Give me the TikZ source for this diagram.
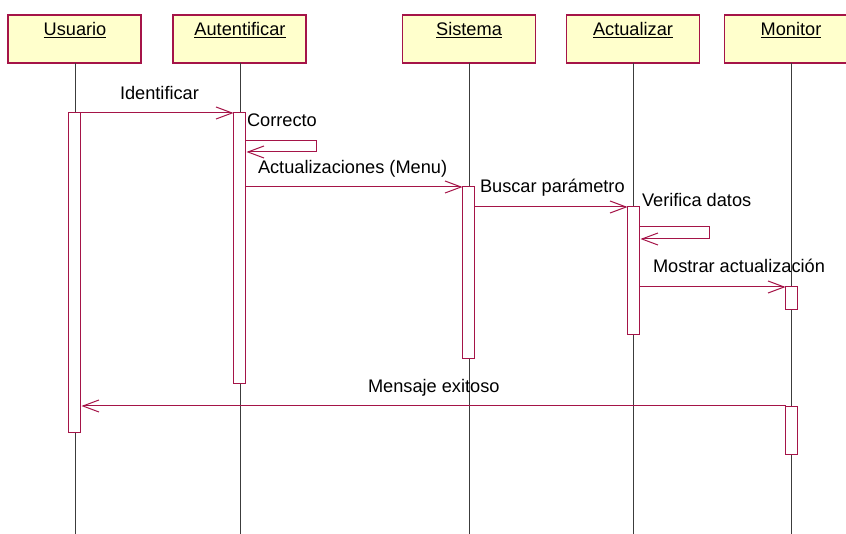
\documentclass[tikz,border=0pt]{standalone}
\usepackage{fontspec}
\setmainfont{Liberation Sans}
\usetikzlibrary{arrows.meta}
\definecolor{crim}{RGB}{165,20,72}
\definecolor{hdrfill}{RGB}{255,255,204}
\definecolor{lifegray}{RGB}{60,60,60}
\begin{document}
\begin{tikzpicture}[x=1pt,y=-1pt,
  every node/.style={inner sep=0pt,outer sep=0pt},
  hdr/.style={draw=crim,fill=hdrfill,line width=1.2pt,minimum width=133pt,minimum height=48pt},
  hdrtxt/.style={anchor=base,font=\fontsize{18.2}{21}\selectfont},
  life/.style={draw=lifegray,line width=0.8pt},
  act/.style={draw=crim,fill=white,line width=1pt,minimum width=12pt},
  msg/.style={draw=crim,line width=1pt,-{Straight Barb[length=16pt,width=12pt,line width=1pt]}},
  self/.style={draw=crim,line width=1pt,-{Straight Barb[length=16pt,width=12pt,line width=1pt]}},
  lbl/.style={anchor=base west,font=\fontsize{18.2}{21}\selectfont}]
\useasboundingbox (0,0) rectangle (846,534);
\fill[white] (0,0) rectangle (846,534);
% headers
\node[hdr] (hU) at (74.5,39) {};
\node[hdr] (hA) at (239.5,39) {};
\node[hdr] (hS) at (469,39) {};
\node[hdr] (hC) at (633,39) {};
\node[hdr] (hM) at (791,39) {};
\node[hdrtxt] (tU) at (75,36) {\underline{Usuario}};
\node[hdrtxt] (tA) at (240,36) {\underline{Autentificar}};
\node[hdrtxt] (tS) at (469,36) {\underline{Sistema}};
\node[hdrtxt] (tC) at (633,36) {\underline{Actualizar}};
\node[hdrtxt] (tM) at (791,36) {\underline{Monitor}};
% lifelines
\coordinate (eU) at (75,534);
\coordinate (eA) at (240,534);
\coordinate (eS) at (469,534);
\coordinate (eC) at (633,534);
\coordinate (eM) at (791,534);
\draw[life] (hU.south -| eU) -- (eU);
\draw[life] (hA.south -| eA) -- (eA);
\draw[life] (hS.south -| eS) -- (eS);
\draw[life] (hC.south -| eC) -- (eC);
\draw[life] (hM.south -| eM) -- (eM);
% activations
\node[act,minimum height=319pt] (aU) at (74.5,272.5) {};
\node[act,minimum height=271pt] (aA) at (239.5,248.5) {};
\node[act,minimum height=172pt] (aS) at (468.5,272.5) {};
\node[act,minimum height=128pt] (aC) at (633.5,270.5) {};
\node[act,minimum height=23pt] (aM1) at (791.5,298) {};
\node[act,minimum height=48pt] (aM2) at (791.5,430.5) {};
% messages
\draw[msg] (aU.east |- 0,113) -- (aA.west |- 0,113);
\node[lbl] (l1) at (120,100) {Identificar};
\coordinate (c1) at (316,141);
\coordinate (c2) at (316,152);
\draw[self] (aA.east |- c1) -- (c1) -- (c2) -- ([xshift=1pt]aA.east |- c2);
\node[lbl] (l2) at (247,127) {Correcto};
\draw[msg] (aA.east |- 0,187) -- (aS.west |- 0,187);
\node[lbl] (l3) at (258,174) {Actualizaciones (Menu)};
\draw[msg] (aS.east |- 0,207) -- (aC.west |- 0,207);
\node[lbl] (l4) at (480,193) {Buscar parámetro};
\coordinate (c3) at (709,227);
\coordinate (c4) at (709,239);
\draw[self] (aC.east |- c3) -- (c3) -- (c4) -- ([xshift=1pt]aC.east |- c4);
\node[lbl] (l5) at (642,207) {Verifica datos};
\draw[msg] (aC.east |- 0,287) -- (aM1.west |- 0,287);
\node[lbl] (l6) at (653,273) {Mostrar actualización};
\draw[msg] (aM2.west |- 0,406) -- ([xshift=1pt]aU.east |- 0,406);
\node[lbl] (l7) at (368,393) {Mensaje exitoso};
\end{tikzpicture}
\end{document}
